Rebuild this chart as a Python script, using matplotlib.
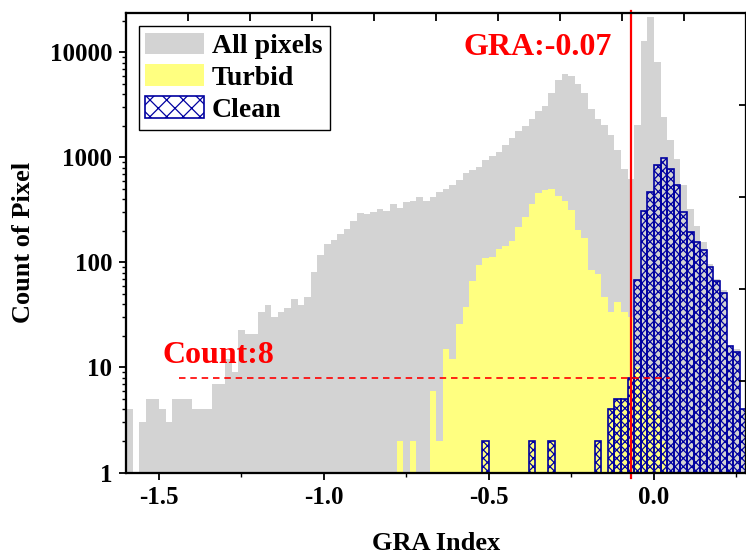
import numpy as np
import matplotlib
matplotlib.use("Agg")
import matplotlib.pyplot as plt
from matplotlib.patches import Patch
from matplotlib.ticker import LogLocator, NullFormatter

plt.rcParams['font.family'] = ['Liberation Serif', 'DejaVu Serif']
plt.rcParams['font.weight'] = 'bold'
plt.rcParams['hatch.color'] = '#0000A0'
plt.rcParams['hatch.linewidth'] = 0.9

# histogram bins (GRA index), width 0.02 starting at -1.60
bin_start = -1.60
bin_width = 0.02

all_pixels = [4, 0, 3, 5, 5, 4, 3, 5, 5, 5,
              4, 4, 4, 7, 7, 12, 9, 23, 21, 21,
              34, 39, 30, 34, 37, 45, 39, 47, 82, 119,
              151, 162, 188, 209, 251, 295, 287, 305, 320, 308,
              362, 329, 375, 384, 425, 381, 425, 474, 499, 541,
              613, 714, 752, 820, 936, 1023, 1140, 1321, 1539, 1769,
              1986, 2334, 2742, 3126, 4100, 5495, 6270, 5906, 5033, 4100,
              2910, 2334, 2050, 1644, 1166, 770, 627, 2018, 12735, 22000,
              8090, 2456, 1473, 971, 541, 325, 225, 156, 97, 70,
              55, 16, 15, 4]

turbid = [0] * 40 + [0, 2, 0, 2, 0, 0, 6, 2, 15, 12,
                     26, 38, 67, 94, 111, 112, 135, 142, 160, 220,
                     274, 362, 457, 485, 504, 428, 381, 313, 205, 172,
                     85, 78, 47, 34, 42, 34, 30, 10, 6, 5,
                     4, 2, 0, 0, 0, 0, 0, 0, 0, 0,
                     0, 0, 0, 0]

clean = [0] * 50 + [0, 0, 0, 0, 2, 0, 0, 0, 0, 0,
                    0, 2, 0, 0, 2, 0, 0, 0, 0, 0,
                    0, 2, 0, 4, 5, 5, 8, 68, 306, 467,
                    852, 985, 769, 541, 301, 196, 158, 132, 90, 67,
                    51, 16, 14, 4]

gra_threshold = -0.07
count_level = 8
count_line_x = [-1.44, 0.05]

y_ticks = [1, 10, 100, 1000, 10000]
y_tick_labels = ['1', '10', '100', '1000', '10000']
x_ticks = [-1.5, -1.0, -0.5, 0.0]
x_tick_labels = ['-1.5', '-1.0', '-0.5', '0.0']
x_minor = [-1.25, -0.75, -0.25, 0.25]

gray_c = '#D3D3D3'
yellow_c = '#FFFF80'
blue_c = '#0000A0'

all_pixels = np.array(all_pixels)
turbid = np.array(turbid)
clean = np.array(clean)
lefts = bin_start + bin_width * np.arange(len(all_pixels))

fig = plt.figure(figsize=(7.46, 5.54), dpi=100)
ax = fig.add_axes([126 / 746, 81.5 / 554, 620.4 / 746, 459.3 / 554])
ax.set_yscale('log')

m = all_pixels > 0
ax.bar(lefts[m], all_pixels[m], width=bin_width, align='edge', color=gray_c,
       linewidth=0, zorder=1)
m = turbid > 0
ax.bar(lefts[m], turbid[m], width=bin_width, align='edge', color=yellow_c,
       linewidth=0, zorder=2)
m = clean > 0
ax.bar(lefts[m], clean[m], width=bin_width, align='edge', facecolor='none',
       edgecolor=blue_c, hatch='xxxx', linewidth=1.2, zorder=3)

# threshold markers
ax.axvline(gra_threshold, ymin=-0.012, ymax=1.004, color='red', lw=1.6,
           zorder=4, clip_on=False)
ax.plot(count_line_x, [count_level, count_level], color='red', lw=1.2,
        dashes=(3.9, 2.9), zorder=4)
ax.text(-0.576, 9360, 'GRA:-0.07', color='red', fontsize=23, fontweight='bold')
ax.text(-1.488, 11.0, 'Count:8', color='red', fontsize=23, fontweight='bold')

ax.set_xlim(bin_start, 0.28)
ax.set_ylim(1, 23660)
ax.set_xticks(x_ticks)
ax.set_xticklabels(x_tick_labels)
ax.set_xticks(x_minor, minor=True)
ax.set_yticks(y_ticks)
ax.set_yticklabels(y_tick_labels)
ax.yaxis.set_minor_locator(LogLocator(base=10, subs=np.arange(2, 10)))
ax.yaxis.set_minor_formatter(NullFormatter())
ax.tick_params(which='major', direction='out', length=5, width=1.3,
               labelsize=18, pad=5)
ax.tick_params(which='minor', direction='out', length=3, width=1.0)
for s in ax.spines.values():
    s.set_linewidth(1.5)

ax.set_xlabel('GRA Index', fontsize=19, fontweight='bold')
ax.xaxis.set_label_coords(0.5, -0.13)
ax.set_ylabel('Count of Pixel', fontsize=19, fontweight='bold')
ax.yaxis.set_label_coords(-0.147, 0.5)

handles = [Patch(facecolor=gray_c, linewidth=0, label='All pixels'),
           Patch(facecolor=yellow_c, linewidth=0, label='Turbid'),
           Patch(facecolor='white', edgecolor=blue_c, hatch='xx',
                 linewidth=1.2, label='Clean')]
leg = ax.legend(handles=handles, loc='upper left', fontsize=20, fancybox=False,
                framealpha=1, edgecolor='black', handlelength=2.1,
                handleheight=0.8, handletextpad=0.3, labelspacing=0.2,
                borderpad=0.25, borderaxespad=0.45)
leg.get_frame().set_linewidth(1.0)
leg.set_zorder(10)

# extra tick marks on top and right frame
ax_top = ax.twiny()
ax_top.set_xlim(0, 10)
ax_top.set_xticks(range(1, 10))
ax_top.tick_params(axis='x', direction='in', length=6, width=1.3,
                   labeltop=False)
ax_right = ax.twinx()
ax_right.set_ylim(0, 5)
ax_right.set_yticks(range(1, 5))
ax_right.tick_params(axis='y', direction='in', length=5, width=1.3,
                     labelright=False)
for a in (ax_top, ax_right):
    for s in a.spines.values():
        s.set_linewidth(1.5)

fig.savefig('out.png', dpi=100)
